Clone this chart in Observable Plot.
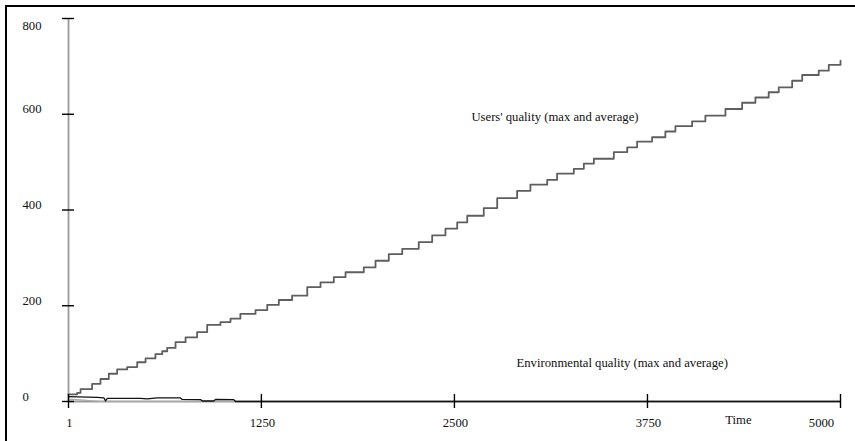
<!DOCTYPE html>
<html><head><meta charset="utf-8">
<script src="https://cdn.jsdelivr.net/npm/d3@7"></script>
<script src="https://cdn.jsdelivr.net/npm/@observablehq/plot@0.6"></script>
<style>
html,body{margin:0;padding:0;background:#fff;}
#wrap{position:relative;width:855px;height:441px;overflow:hidden;}
#border{position:absolute;left:5px;top:5px;right:-10px;bottom:-10px;border-top:2.5px solid #000;border-left:2.5px solid #000;pointer-events:none;}
#chart svg, #chart svg text{font-family:"Liberation Serif","Times New Roman",serif !important;font-size:12.7px !important;}
</style></head><body>
<div id="wrap"><div id="chart"></div><div id="border"></div></div>
<script>
// Users' quality (max and average) — plateau starts
const usersT = [1,57,79,154,208,262,316,381,446,500,564,608,640,694,759,834,899,985,1050,1114,1212,1288,1363,1449,1547,1633,1719,1795,1913,1989,2075,2162,2269,2356,2442,2518,2583,2690,2777,2906,2992,3101,3165,3273,3338,3403,3532,3619,3683,3780,3866,3931,4039,4125,4255,4363,4449,4535,4600,4687,4752,4859,4924,5000];
const usersV = [15,18,26,37,47,58,67,72,82,90,99,105,112,124,134,145,160,166,173,183,191,202,212,221,239,249,260,270,280,294,308,319,333,347,361,374,388,404,425,440,453,463,476,486,497,507,521,531,543,552,564,575,585,597,611,624,635,646,656,670,682,691,703,712];

// Environmental quality: max (dark) and average (light)
const envMaxT = [1,187,230,241,252,467,511,575,726,737,856,867,942,953,1071,1082,5000];
const envMaxV = [10,8.5,7.7,1,6.5,6.5,5.5,7.7,7.5,4.4,4,1,1,4.4,4,0,0];
const envAvgT = [1,100,200,5000];
const envAvgV = [5,3,0,0];

const xTicks = [1,1250,2500,3750,5000];
const xTickLabels = ["1","1250","2500","3750","5000"];
const yTicks = [0,200,400,600,800];
const yTickLabels = ["0","200","400","600","800"];

const notes = ["Users' quality (max and average)", "Environmental quality (max and average)"];
const notesT = [2610, 2902];
const notesV = [595, 81];
const timeLabel = "Time";
const timeLabelT = 4339;

const users = usersT.map((t,i)=>({t, v: usersV[i]}));
const envMax = envMaxT.map((t,i)=>({t, v: envMaxV[i]}));
const envAvg = envAvgT.map((t,i)=>({t, v: envAvgV[i]}));
const noteData = notes.map((s,i)=>({s, t: notesT[i], v: notesV[i]}));
const yTickData = yTicks.map((v,i)=>({v, s: yTickLabels[i]}));
const xTickData = xTicks.map((t,i)=>({t, s: xTickLabels[i]}));
const lastT = xTicks[xTicks.length-1];

const plot = Plot.plot({
  width: 855, height: 441,
  marginLeft: 68, marginRight: 15, marginTop: 18, marginBottom: 40,
  x: {domain: [1,5000], axis: null},
  y: {domain: [0,800], axis: null},
  style: {background: "white", overflow: "visible", color: "#111"},
  marks: [
    Plot.ruleY([0], {x1: 1, x2: 5000, stroke: "#9a9a9a", strokeWidth: 2.2}),
    Plot.ruleX([1], {y1: 0, y2: 800, stroke: "#9a9a9a", strokeWidth: 1.8}),
    Plot.line(envAvg, {x: "t", y: "v", stroke: "#aaa", strokeWidth: 1.2}),
    Plot.line(envMax, {x: "t", y: "v", stroke: "#111", strokeWidth: 1.3}),
    Plot.line(users, {x: "t", y: "v", curve: "step-after", stroke: "#5e5e5e", strokeWidth: 1.8}),
    Plot.ruleX(xTicks, {x: d=>d, y1: 0, y2: 0, insetTop: -7, insetBottom: -7, stroke: "#000", strokeWidth: 1.4}),
    Plot.ruleY(yTicks, {y: d=>d, x1: 1, x2: 1, insetLeft: -6, insetRight: -6, stroke: "#000", strokeWidth: 1.4}),
    Plot.text(xTickData.filter(d=>d.t<lastT), {x: "t", y: 0, text: "s", dy: 21, dx: 1, fill: "#111"}),
    Plot.text(xTickData.filter(d=>d.t>=lastT), {x: "t", y: 0, text: "s", dy: 21, dx: -19, fill: "#111"}),
    Plot.text(yTickData.filter(d=>d.v<800), {x: 1, y: "v", text: "s", dx: -46, dy: -5, textAnchor: "start", fill: "#111"}),
    Plot.text(yTickData.filter(d=>d.v>=800), {x: 1, y: "v", text: "s", dx: -46, dy: 7, textAnchor: "start", fill: "#111"}),
    Plot.text(noteData, {x: "t", y: "v", text: "s", textAnchor: "start", fill: "#111"}),
    Plot.text([timeLabel], {x: timeLabelT, y: 0, text: d=>d, dy: 18, fill: "#111"})
  ]
});
document.getElementById("chart").appendChild(plot);
</script>
</body></html>
